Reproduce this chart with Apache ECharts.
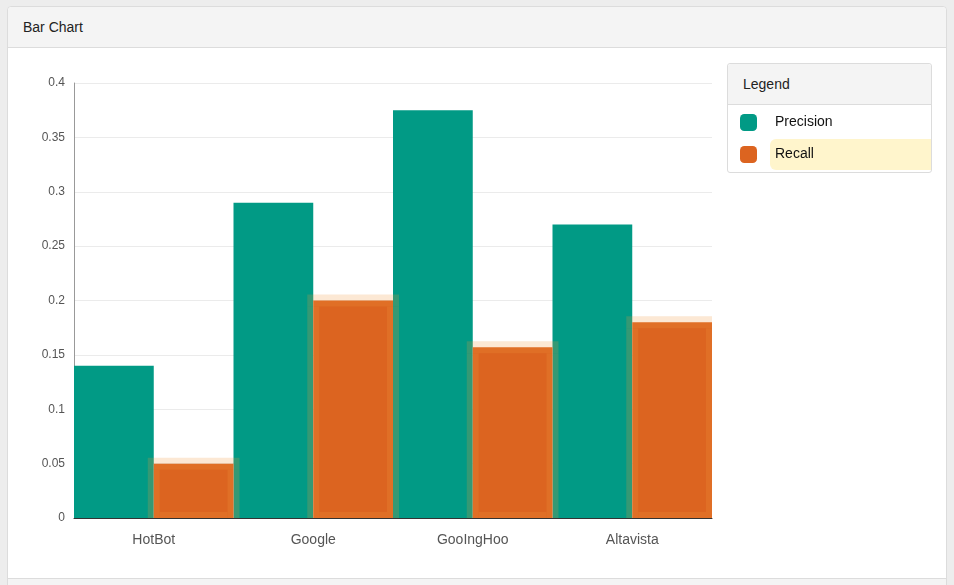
<!DOCTYPE html>
<html>
<head>
<meta charset="utf-8">
<script src="https://cdn.jsdelivr.net/npm/echarts@6/dist/echarts.min.js"></script>
<style>
  html,body{margin:0;padding:0;width:954px;height:585px;overflow:hidden;background:#ededed;font-family:"Liberation Sans",Arial,Helvetica,sans-serif;}
  #panel{position:absolute;left:7px;top:6px;width:938px;height:620px;border:1px solid #dcdcdc;border-radius:4px;background:#fff;}
  #phead{height:40px;line-height:40px;background:#f4f4f4;border-bottom:1px solid #dcdcdc;border-radius:4px 4px 0 0;padding-left:15px;font-size:14px;color:#222;}
  #pfoot{position:absolute;left:0;top:571px;width:938px;height:50px;background:#f4f4f4;border-top:1px solid #dcdcdc;}
  #lbox{position:absolute;left:727px;top:63px;width:203px;height:108px;border:1px solid #dcdcdc;border-radius:3px;background:#fff;}
  #lhead{height:40px;line-height:41px;background:#f4f4f4;border-bottom:1px solid #dcdcdc;border-radius:3px 3px 0 0;padding-left:15px;font-size:14px;color:#222;}
  #hl{position:absolute;left:770px;top:139px;width:161px;height:31px;background:#fff5cc;border-radius:6px 0 0 6px;}
  #chart{position:absolute;left:0;top:0;width:954px;height:585px;}
</style>
</head>
<body>
<div id="panel"><div id="phead">Bar Chart</div><div id="pfoot"></div></div>
<div id="lbox"><div id="lhead">Legend</div></div>
<div id="hl"></div>
<div id="chart"></div>
<script>
const categories = ['HotBot', 'Google', 'GooIngHoo', 'Altavista'];
const precision = [0.14, 0.29, 0.375, 0.27];
const recall = [0.05, 0.20, 0.157, 0.18];
const seriesNames = ['Precision', 'Recall'];
const colors = ['#019a85', '#dc6420'];

const chart = echarts.init(document.getElementById('chart'), null, {renderer: 'canvas'});
const FONT = '"Liberation Sans", Arial, sans-serif';
const halo = 6;
const haloFill = 'rgba(240,150,60,0.22)';

function renderHalo(params, api) {
  const i = api.value(0);
  const top = api.coord([i, api.value(1)]);
  const base = api.coord([i, 0]);
  const bw = api.size([1, 0])[0];
  const x0 = top[0], x1 = top[0] + bw / 2;
  const yt = top[1], yb = base[1];
  const r = (x, y, w, h) => ({type: 'rect', shape: {x, y, width: w, height: h}, style: {fill: haloFill}});
  return {type: 'group', children: [
    r(x0 - halo, yt - halo, (x1 - x0) + 2 * halo, 2 * halo),
    r(x0 - halo, yt + halo, 2 * halo, yb - yt - halo),
    r(x1 - halo, yt + halo, 2 * halo, yb - yt - halo),
    r(x0 + halo, yb - halo, (x1 - x0) - 2 * halo, halo)
  ]};
}

chart.setOption({
  backgroundColor: 'transparent',
  animation: false,
  grid: {left: 74, right: 242, top: 83, bottom: 67, containLabel: false},
  legend: {
    orient: 'vertical', left: 740, top: 114, padding: 0, itemWidth: 17, itemHeight: 17, itemGap: 15,
    icon: 'roundRect', selectedMode: false,
    itemStyle: {borderWidth: 0},
    textStyle: {fontSize: 14, color: '#111', fontFamily: FONT, padding: [0, 0, 0, 13]},
    data: seriesNames
  },
  xAxis: {
    type: 'category', data: categories, z: 10,
    axisLine: {lineStyle: {color: '#333', width: 1}},
    axisTick: {show: false},
    axisLabel: {fontSize: 14, color: '#555', margin: 15, fontFamily: FONT}
  },
  yAxis: {
    type: 'value', min: 0, max: 0.4, interval: 0.05,
    axisLine: {show: true, lineStyle: {color: '#999'}},
    axisTick: {show: false},
    splitLine: {lineStyle: {color: '#ebebeb'}},
    axisLabel: {fontSize: 12, color: '#555', margin: 9, fontFamily: FONT,
      formatter: v => String(+v.toFixed(2))}
  },
  series: [
    {name: seriesNames[0], type: 'bar', data: precision, barGap: '0%', barCategoryGap: '0%',
      itemStyle: {color: colors[0]}},
    {name: seriesNames[1], type: 'bar', data: recall, barGap: '0%', barCategoryGap: '0%',
      itemStyle: {color: colors[1]}},
    {name: 'recall-highlight', type: 'custom', z: 3, silent: true, clip: true,
      data: recall.map((v, i) => [i, v]),
      encode: {x: 0, y: 1},
      renderItem: renderHalo}
  ]
});
</script>
</body>
</html>
